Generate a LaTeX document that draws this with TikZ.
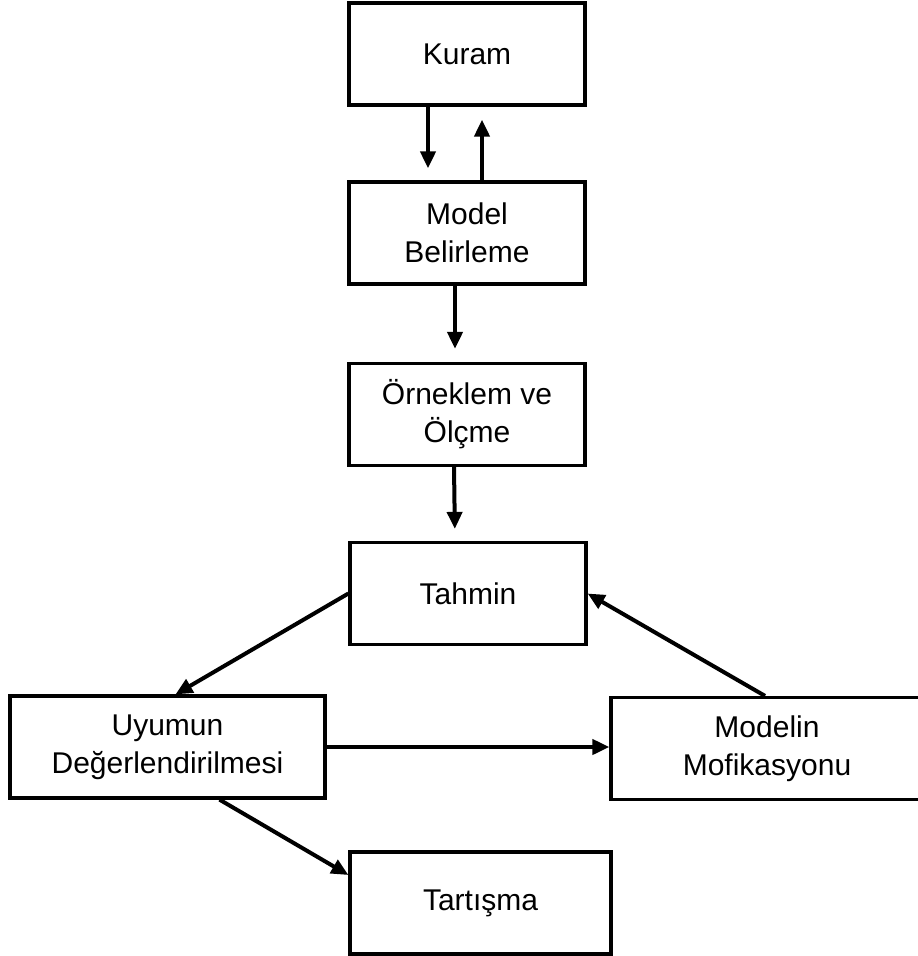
\documentclass[tikz,border=0pt]{standalone}
\usepackage{fontspec}
\setmainfont{Liberation Sans}
\usepackage{xcolor}
\usetikzlibrary{
    arrows.meta,
    positioning,
    calc
}
\definecolor{ink}{HTML}{000000}
\tikzset{
    % Base stage box
    stage/.style={
        rectangle,
        minimum width=118pt,
        minimum height=51pt,
        align=center,
        font=\fontsize{15}{19}\selectfont,
        draw=ink,
        fill=white,
        line width=1.6pt
    },
    % Arrow style
    flow/.style={
        -{Triangle[length=8.5pt, width=7.5pt]},
        line width=2pt,
        color=ink
    }
}

\begin{document}
\begin{tikzpicture}[x=0.5pt, y=-0.5pt]
        \useasboundingbox (0,0) rectangle (917,956);

        % Main column
        \node[stage] (kuram) at (467, 54) {Kuram};
        \node[stage] (model) at (467, 233) {Model\\Belirleme};
        \node[stage] (orneklem) at (467, 414.5) {Örneklem ve\\Ölçme};
        \node[stage] (tahmin) at (468, 593.5) {Tahmin};

        % Lower row
        \node[stage, minimum width=157.5pt] (uyum) at (167.5, 747) {Uyumun\\Değerlendirilmesi};
        \node[stage, minimum width=156pt] (modif) at (767, 748.5) {Modelin\\Mofikasyonu};
        \node[stage, minimum width=130.5pt] (tartisma) at (480.5, 903) {Tartışma};

        % Connections
        \draw[flow, shorten >=6pt] ([xshift=-19.5pt]kuram.south) -- ([xshift=-19.5pt]model.north);
        \draw[flow, shorten >=6.5pt] ([xshift=7.5pt]model.north) -- ([xshift=7.5pt]kuram.south);
        \draw[flow, shorten >=6.5pt] ([xshift=-6pt]model.south) -- ([xshift=-6pt]orneklem.north);
        \draw[flow, shorten >=6pt] ([xshift=-6.5pt]orneklem.south) -- ([xshift=-6.5pt]tahmin.north);

        \draw[flow] (tahmin.west) -- ([xshift=4pt]uyum.north);
        \draw[flow] (uyum.east) -- (uyum.east -| modif.west);
        \draw[flow] ([xshift=-1pt]modif.north) -- (tahmin.east);
        \draw[flow] ([xshift=26pt]uyum.south) -- ([yshift=14pt]tartisma.west);

    \end{tikzpicture}
\end{document}
